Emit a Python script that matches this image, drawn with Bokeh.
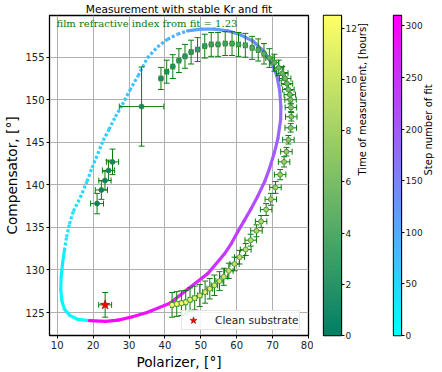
import numpy as np
from bokeh.plotting import figure
from bokeh.models import (Range1d, ColumnDataSource, Label, LinearColorMapper,
                          Legend, LegendItem, FixedTicker)
from bokeh.layouts import row
from bokeh.embed import file_html
from bokeh.resources import INLINE

title_text = "Measurement with stable Kr and fit"
note_text = "film refractive index from fit = 1.23"
x_label = "Polarizer, [°]"
y_label = "Compensator, [°]"
time_label = "Time of measurement, [hours]"
step_label = "Step number of fit"
legend_label = "Clean substrate"

x_ticks = [10, 20, 30, 40, 50, 60, 70, 80]
y_ticks = [125, 130, 135, 140, 145, 150, 155]
time_ticks = [0, 2, 4, 6, 8, 10, 12]
step_ticks = [0, 50, 100, 150, 200, 250, 300]

# measured ellipsometer angles (degrees) with their uncertainties
pol = [21.1, 22.3, 23.3, 24.3, 25.4, 33.5, 38.9, 40.5, 42.2, 43.9, 45.6, 47.3,
       49.1, 51.1, 52.9, 54.8, 56.8, 58.7, 60.5, 62.4, 64.3, 66.0, 67.6, 69.1,
       70.5, 71.7, 72.7, 73.5, 74.0, 74.4, 74.8, 75.0, 75.1, 75.2, 75.05, 74.4,
       73.85, 73.2, 72.1, 70.8, 69.5, 68.2, 66.8, 65.5, 63.9, 62.5, 60.8, 59.4,
       57.8, 56.4, 55.2, 53.8, 52.5, 51.2, 49.7, 48.3, 47.0, 45.8, 44.6, 43.3, 42.0]
comp = [137.8, 139.4, 140.5, 141.7, 142.7, 149.2, 152.5, 153.3, 153.9, 154.6, 155.1,
        155.6, 155.9, 156.3, 156.5, 156.5, 156.6, 156.6, 156.5, 156.4, 156.1, 155.85,
        155.4, 154.9, 154.35, 153.75, 153.1, 152.5, 151.9, 151.2, 150.6, 150.0, 149.1,
        148.0, 146.7, 145.3, 143.9, 142.7, 141.2, 139.7, 138.3, 137.1, 135.7, 134.6,
        133.5, 132.4, 131.5, 130.7, 129.9, 129.2, 128.7, 128.2, 127.8, 127.4, 127.0,
        126.7, 126.5, 126.2, 126.1, 126.0, 125.9]
pol_err = [1.8, 1.7, 1.7, 1.7, 1.7, 6.2,
           0.5, 0.5, 0.5, 0.5, 0.5, 0.5, 0.5, 0.5, 0.5, 0.5, 0.5, 0.5, 0.5, 0.5, 0.5, 0.5, 0.5,
           1.0, 1.2, 1.4,
           1.6, 1.6, 1.6, 1.6, 1.6, 1.6, 1.6, 1.6, 1.6, 1.6, 1.6, 1.6, 1.6, 1.6, 1.6, 1.6, 1.6, 1.6,
           1.6, 1.5, 1.4, 1.3, 1.2, 1.1,
           1.0, 0.9, 0.8, 0.7, 0.6, 0.5, 0.5, 0.4, 0.4, 0.4, 0.4]
comp_err = [1.2, 1.1, 1.1, 1.2, 1.5, 4.65,
            1.3, 1.35, 1.4, 1.4, 1.4, 1.4, 1.4, 1.4, 1.4, 1.4, 1.4, 1.4, 1.4, 1.4, 1.35, 1.3,
            1.2, 1.1, 1.0, 0.9, 0.8, 0.7, 0.6, 0.6, 0.5, 0.5, 0.5, 0.5,
            0.5, 0.5, 0.5, 0.6, 0.6, 0.7, 0.7, 0.7, 0.7, 0.7,
            0.7, 0.7, 0.8, 0.8, 0.9, 1.0, 1.1, 1.2, 1.2, 1.3, 1.3, 1.4, 1.4, 1.4, 1.45, 1.45, 1.45]
t_hours = [0.0, 0.2, 0.4, 0.6, 0.8, 1.0, 1.3, 1.5, 1.7, 1.9, 2.1, 2.3, 2.5, 2.7, 2.9,
           3.1, 3.3, 3.5, 3.7, 3.9, 4.1, 4.3, 4.5, 4.7, 4.9, 5.1, 5.3, 5.5, 5.7, 5.9,
           6.1, 6.3, 6.5, 6.7, 6.9, 7.1, 7.3, 7.5, 7.7, 7.9, 8.1, 8.3, 8.5, 8.7, 8.9,
           9.1, 9.3, 9.5, 9.7, 9.9, 10.1, 10.3, 10.5, 10.7, 10.9, 11.1, 11.3, 11.6,
           11.9, 12.2, 12.5]

# bare substrate reference measurement
sub_pol, sub_comp = [23.35], [125.9]
sub_pol_err, sub_comp_err = [1.8], [1.45]

# fitted film trajectory, sampled along the fit steps
fit_pol = [19.0, 15.7, 13.4, 12.0, 11.3, 11.0, 11.1, 11.5, 12.0, 12.6, 13.4, 14.5,
           16.4, 18.3, 19.7, 21.3, 22.8, 24.4, 26.2, 28.1, 30.2, 32.5, 35.1, 37.9,
           40.7, 43.5, 46.3, 50.0, 53.8, 57.5, 61.2, 64.5, 67.5, 69.8, 71.2, 72.0,
           72.3, 72.25, 71.5, 70.5, 69.2, 67.8, 65.9, 64.0, 62.1, 60.3, 58.5, 56.6,
           52.0, 46.5, 41.4, 35.0, 31.0, 27.0, 23.5, 19.0]
fit_comp = [124.05, 124.2, 124.7, 125.4, 126.35, 127.7, 129.2, 130.8, 132.3, 133.85,
            135.4, 136.9, 138.5, 140.4, 142.0, 143.65, 145.2, 146.5, 148.0, 149.4,
            151.1, 152.8, 154.9, 156.2, 157.1, 157.7, 158.1, 158.3, 158.3, 158.1,
            157.6, 156.9, 155.7, 154.3, 152.8, 151.0, 149.2, 147.7, 145.5, 143.8,
            142.0, 140.4, 138.7, 137.2, 135.8, 134.5, 133.1, 131.9, 129.6, 127.8,
            126.1, 125.0, 124.5, 124.1, 123.95, 124.05]
fit_step = [0, 3, 6, 9, 12, 15, 19, 23, 27, 31, 35, 39, 44, 49, 53, 57, 60, 63, 66,
            69, 73, 77, 83, 89, 95, 101, 107, 114, 121, 129, 137, 145, 153, 161, 168,
            174, 180, 185, 192, 198, 204, 210, 217, 223, 229, 235, 241, 247, 260, 272,
            283, 293, 298, 303, 307, 310]

FONT = "DejaVu Sans"
ERR = "#0a7d0a"


def summer_rgb(f):
    f = min(max(f, 0.0), 1.0)
    return "#%02x%02x%02x" % (round(255 * f), round(255 * (0.5 + 0.5 * f)), round(255 * 0.4))


def cool_rgb(f):
    f = min(max(f, 0.0), 1.0)
    return "#%02x%02x%02x" % (round(255 * f), round(255 * (1 - f)), 255)


SUMMER = [summer_rgb(i / 255) for i in range(256)]
COOL = [cool_rgb(i / 255) for i in range(256)]
t_max = max(t_hours)
step_max = max(fit_step)

p = figure(width=313, height=372, x_range=Range1d(7.85, 80.0), y_range=Range1d(122.3, 159.9),
           output_backend="svg", toolbar_location=None, title=title_text,
           min_border_left=49, min_border_right=5, min_border_top=14, min_border_bottom=31)
p.background_fill_color = "white"
p.border_fill_color = "white"
p.outline_line_color = "black"
p.outline_line_width = 1.3

p.title.text_font = FONT
p.title.text_font_size = "10.6px"
p.title.text_font_style = "normal"
p.title.text_color = "black"
p.title.align = "center"
p.title.standoff = 1

p.xaxis.ticker = FixedTicker(ticks=x_ticks)
p.yaxis.ticker = FixedTicker(ticks=y_ticks)
for ax, lab in ((p.xaxis, x_label), (p.yaxis, y_label)):
    ax.axis_label = lab
    ax.axis_label_text_font = FONT
    ax.axis_label_text_font_size = "13.7px"
    ax.axis_label_text_font_style = "normal"
    ax.axis_label_text_color = "black"
    ax.major_label_text_font = FONT
    ax.major_label_text_font_size = "10px"
    ax.major_label_text_color = "#222222"
    ax.major_tick_in = 0
    ax.major_tick_out = 3
    ax.minor_tick_in = 0
    ax.minor_tick_out = 0
    ax.axis_line_color = "black"
    ax.major_label_standoff = 2
    ax.axis_label_standoff = 2
p.grid.grid_line_color = "#b0b0b0"
p.grid.grid_line_width = 1

# fit trajectory, coloured by step number; the sparsely sampled stretch of the
# path (upper left arc) is drawn as separate dots
seg_c = [cool_rgb(s / step_max) for s in fit_step[:-1]]
sparse = [8 <= i <= 25 for i in range(len(fit_pol) - 1)]


def fit_segments(mask):
    idx = [i for i, m in enumerate(mask) if m]
    return ColumnDataSource(dict(
        x0=[fit_pol[i] for i in idx], y0=[fit_comp[i] for i in idx],
        x1=[fit_pol[i + 1] for i in idx], y1=[fit_comp[i + 1] for i in idx],
        c=[seg_c[i] for i in idx]))


p.segment("x0", "y0", "x1", "y1", source=fit_segments([not m for m in sparse]),
          line_color="c", line_width=3.2, line_cap="round")
p.segment("x0", "y0", "x1", "y1", source=fit_segments(sparse),
          line_color="c", line_width=3.2, line_cap="butt", line_dash="3 2")


# error bars with caps
def error_bars(xs, ys, exs, eys, color):
    p.segment(x0=xs, y0=[y - e for y, e in zip(ys, eys)], x1=xs,
              y1=[y + e for y, e in zip(ys, eys)], line_color=color, line_width=1)
    p.segment(x0=[x - e for x, e in zip(xs, exs)], y0=ys,
              x1=[x + e for x, e in zip(xs, exs)], y1=ys, line_color=color, line_width=1)
    p.scatter(x=xs + xs, y=[y - e for y, e in zip(ys, eys)] + [y + e for y, e in zip(ys, eys)],
              marker="dash", size=6, line_color=color, line_width=1)
    p.scatter(x=[x - e for x, e in zip(xs, exs)] + [x + e for x, e in zip(xs, exs)], y=ys + ys,
              marker="dash", angle=np.pi / 2, size=6, line_color=color, line_width=1)


error_bars(pol, comp, pol_err, comp_err, ERR)
p.scatter(x=pol, y=comp, size=5, fill_color=[summer_rgb(t / t_max) for t in t_hours],
          line_color="#2e7d32", line_width=0.7)

error_bars(sub_pol, sub_comp, sub_pol_err, sub_comp_err, ERR)
star = p.scatter(x=sub_pol, y=sub_comp, marker="star", size=10, fill_color="red",
                 line_color="#9b0000", line_width=0.6)

p.add_layout(Label(x=9.8, y=159.0, text=note_text, text_font="DejaVu Serif",
                   text_font_size="10px", text_color="green", text_baseline="middle",
                   text_align="left"))

legend = Legend(items=[LegendItem(label=legend_label, renderers=[star])], location=(132, 5),
                label_text_font=FONT, label_text_font_size="10.6px", label_text_color="#222222",
                glyph_width=22, glyph_height=18, label_height=18, padding=0, margin=0,
                label_standoff=11, spacing=0, border_line_color="#cccccc",
                background_fill_alpha=0.85)
p.add_layout(legend)


def colorbar_fig(width, left, right, high, palette, ticks, label):
    cb = figure(width=width, height=372, x_range=Range1d(0, 1), y_range=Range1d(0, high),
                output_backend="svg", toolbar_location=None, x_axis_location=None,
                y_axis_location="right", min_border_left=left, min_border_right=right,
                min_border_top=14, min_border_bottom=32)
    grad = np.linspace(0, high, 256).reshape(256, 1)
    cb.image(image=[grad], x=0, y=0, dw=1, dh=high,
             color_mapper=LinearColorMapper(palette=palette, low=0, high=high))
    cb.grid.visible = False
    cb.outline_line_color = "black"
    cb.outline_line_width = 1.3
    cb.border_fill_color = "white"
    ax = cb.yaxis
    ax.ticker = FixedTicker(ticks=ticks)
    ax.axis_label = label
    ax.axis_label_orientation = np.pi / 2
    ax.axis_label_text_font = FONT
    ax.axis_label_text_font_size = "10px"
    ax.axis_label_text_font_style = "normal"
    ax.axis_label_text_color = "black"
    ax.major_label_text_font = FONT
    ax.major_label_text_font_size = "9px"
    ax.major_label_text_color = "#222222"
    ax.major_tick_in = 0
    ax.major_tick_out = 3
    ax.minor_tick_in = 0
    ax.minor_tick_out = 0
    ax.axis_line_color = "black"
    ax.major_label_standoff = 1
    ax.axis_label_standoff = 3
    return cb


cb_time = colorbar_fig(69, 10, 41, t_max, SUMMER, time_ticks, time_label)
cb_step = colorbar_fig(60, 11, 32, step_max, COOL, step_ticks, step_label)

layout = row(p, cb_time, cb_step)
open("out.html", "w").write(file_html(layout, INLINE))
